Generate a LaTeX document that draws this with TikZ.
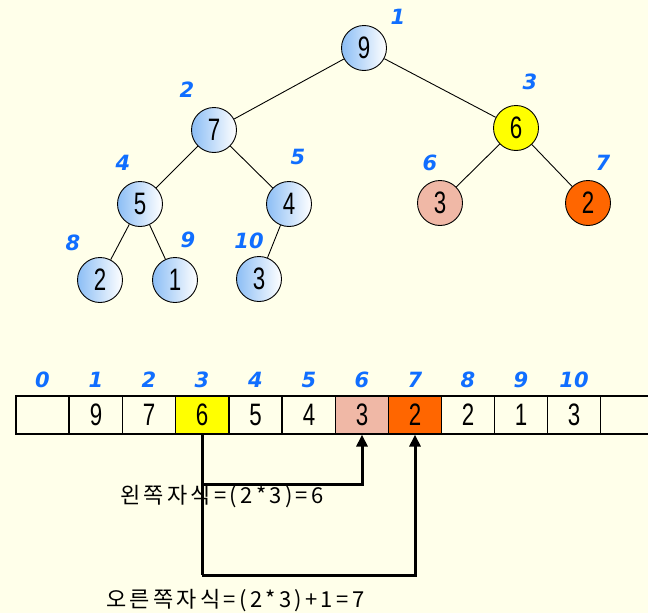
\documentclass[tikz,border=0pt]{standalone}
\usepackage{fontspec}
\usetikzlibrary{arrows.meta}
\newfontfamily\krfont[LetterSpace=15]{Noto Sans CJK KR}
\newfontfamily\digitfont[FakeStretch=0.72]{Liberation Sans}
\newfontfamily\idxfont{DejaVu Sans}
\definecolor{paper}{RGB}{255,255,234}
\definecolor{idxblue}{RGB}{16,110,255}
\definecolor{nodeblue}{RGB}{140,190,245}
\definecolor{hlyellow}{RGB}{255,255,0}
\definecolor{hlpink}{RGB}{240,184,166}
\definecolor{hlorange}{RGB}{255,102,0}
\begin{document}
\begin{tikzpicture}[x=1pt,y=-1pt,
  treenode/.style={circle,draw=black,line width=0.9pt,minimum size=45pt,inner sep=0pt,
    font=\digitfont\fontsize{31}{31}\selectfont},
  bluenode/.style={treenode,left color=nodeblue,right color=white},
  idx/.style={text=idxblue,font=\idxfont\bfseries\itshape\fontsize{21}{21}\selectfont,inner sep=0pt},
  cell/.style={rectangle,draw=black,line width=1.2pt,fill=paper,minimum width=53pt,
    minimum height=38pt,inner sep=0pt,font=\digitfont\fontsize{31}{31}\selectfont},
  edge/.style={line width=0.9pt},
  conn/.style={line width=3pt},
  tip/.style={-{Triangle[length=12pt,width=11pt]}},
  note/.style={font=\krfont\fontsize{22}{22}\selectfont,inner sep=0pt,anchor=west}]
\fill[paper] (0,0) rectangle (648,613);
\useasboundingbox (0,0) rectangle (648,613);
\clip (0,0) rectangle (648,613);

% heap as a tree
\node[bluenode] (n1) at (364,48) {9};
\node[bluenode] (n2) at (214,130) {7};
\node[treenode,fill=hlyellow] (n3) at (516,128) {6};
\node[bluenode] (n4) at (140,204) {5};
\node[bluenode] (n5) at (289,204) {4};
\node[treenode,fill=hlpink] (n6) at (440,203) {3};
\node[treenode,fill=hlorange] (n7) at (588,203) {2};
\node[bluenode] (n8) at (100,280) {2};
\node[bluenode] (n9) at (175,280) {1};
\node[bluenode] (n10) at (259,279) {3};

\draw[edge] (n1) -- (n2);
\draw[edge] (n1) -- (n3);
\draw[edge] (n2) -- (n4);
\draw[edge] (n2) -- (n5);
\draw[edge] (n3) -- (n6);
\draw[edge] (n3) -- (n7);
\draw[edge] (n4) -- (n8);
\draw[edge] (n4) -- (n9);
\draw[edge] (n5) -- (n10);

% node numbers
\node[idx] (t1) at (398,17) {1};
\node[idx] (t2) at (187,90) {2};
\node[idx] (t3) at (530,82) {3};
\node[idx] (t4) at (123,163) {4};
\node[idx] (t5) at (298,157) {5};
\node[idx] (t6) at (430,163) {6};
\node[idx] (t7) at (603,163) {7};
\node[idx] (t8) at (73,243) {8};
\node[idx] (t9) at (188,240) {9};
\node[idx] (t10) at (249,241) {10};

% heap as an array
\node[cell] (c0) at (42.5,415) {};
\node[cell] (c1) at (96,415) {9};
\node[cell] (c2) at (149,415) {7};
\node[cell,fill=hlyellow] (c3) at (202,415) {6};
\node[cell] (c4) at (255.5,415) {5};
\node[cell] (c5) at (309,415) {4};
\node[cell,fill=hlpink] (c6) at (362,415) {3};
\node[cell,fill=hlorange] (c7) at (415,415) {2};
\node[cell] (c8) at (468,415) {2};
\node[cell] (c9) at (521,415) {1};
\node[cell] (c10) at (574,415) {3};
\node[cell] (c11) at (627,415) {};

\foreach \i in {0,...,10}{
  \node[idx] (a\i) at ([yshift=35pt]c\i.center) {\i};
}

% child index arrows
\coordinate (kleft) at (202,484);
\coordinate (kright) at (202,575);
\draw[conn] (c3.south) -- (kright);
\draw[conn,tip] (kleft) -| (c6.south);
\draw[conn,tip] (kright) -| (c7.south);

\node[note] (lbl1) at (120,497) {왼쪽자식=(2*3)=6};
\node[note] (lbl2) at (106,601) {오른쪽자식=(2*3)+1=7};
\end{tikzpicture}
\end{document}
